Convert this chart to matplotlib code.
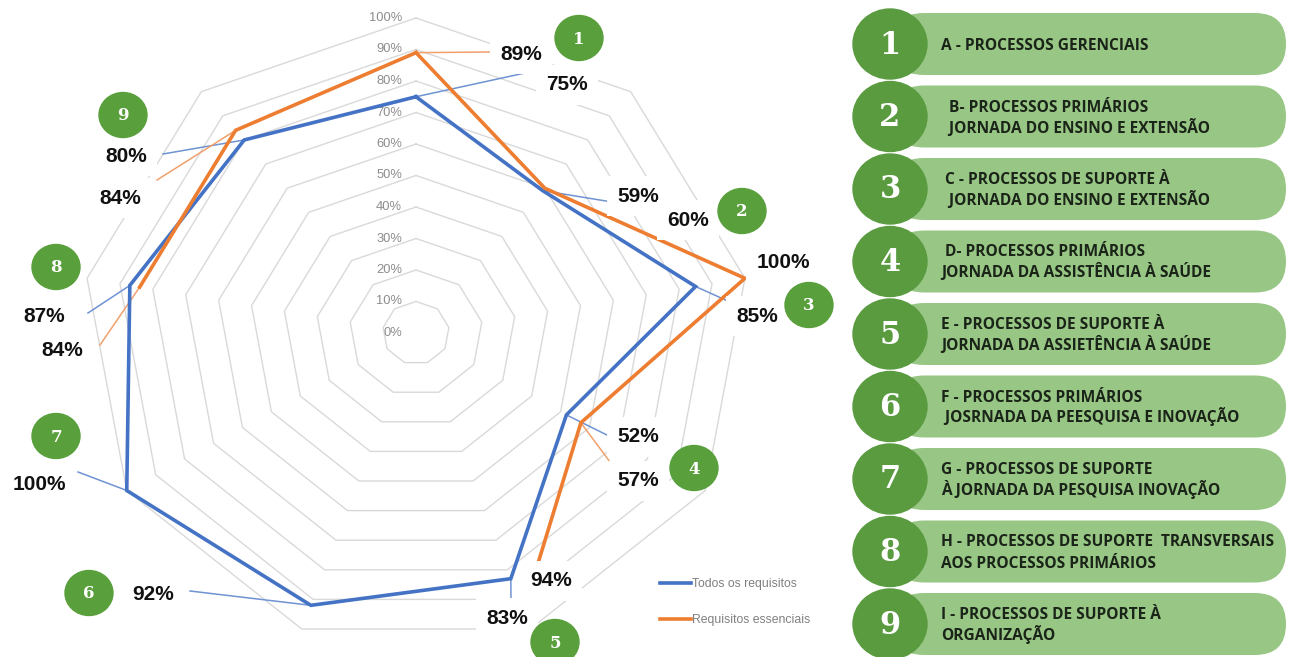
import numpy as np
import matplotlib
matplotlib.use("Agg")
import matplotlib.pyplot as plt
from matplotlib.patches import Ellipse, FancyBboxPatch

# Data (percent per process, axes 1..9 clockwise from top)
eixos = ["1", "2", "3", "4", "5", "6", "7", "8", "9"]
todos_requisitos = [75, 59, 85, 52, 83, 92, 100, 87, 80]
requisitos_essenciais = [89, 60, 100, 57, 94, np.nan, np.nan, 84, 84]
niveis = [0, 10, 20, 30, 40, 50, 60, 70, 80, 90, 100]
serie_nomes = ["Todos os requisitos", "Requisitos essenciais"]

processos = [
    "A - PROCESSOS GERENCIAIS",
    "  B- PROCESSOS PRIMÁRIOS\n  JORNADA DO ENSINO E EXTENSÃO",
    " C - PROCESSOS DE SUPORTE À\n  JORNADA DO ENSINO E EXTENSÃO",
    " D- PROCESSOS PRIMÁRIOS\nJORNADA DA ASSISTÊNCIA À SAÚDE",
    "E - PROCESSOS DE SUPORTE À\nJORNADA DA ASSIETÊNCIA À SAÚDE",
    "F - PROCESSOS PRIMÁRIOS\n JOSRNADA DA PEESQUISA E INOVAÇÃO",
    "G - PROCESSOS DE SUPORTE\nÀ JORNADA DA PESQUISA INOVAÇÃO",
    "H - PROCESSOS DE SUPORTE  TRANSVERSAIS\nAOS PROCESSOS PRIMÁRIOS",
    "I - PROCESSOS DE SUPORTE À\nORGANIZAÇÃO",
]

BLUE = "#4472c4"
ORANGE = "#ed7d31"
GRID = "#d9d9d9"
GREEN_DOT = "#59a03c"
GREEN_PILL = "#98c785"
GREEN_NUM = "#5a9b40"

W, H = 1292, 657
fig = plt.figure(figsize=(W / 100, H / 100), dpi=100)

# radar axes: center at pixel (416, 333); 1% = 3.34 px wide, 3.15 px tall
CX, CY, SX, SY = 416, 333, 3.34, 3.15
ax = fig.add_axes([0, 0, 1, 1])
ax.set_xlim(-CX / SX, (W - CX) / SX)
ax.set_ylim(-(H - CY) / SY, CY / SY)
ax.axis("off")


def px(x, y):
    # pixel position (from top-left) -> radar data coords
    return (x - CX) / SX, (CY - y) / SY


n = len(eixos)
ang = np.pi / 2 - 2 * np.pi * np.arange(n) / n
ang_c = np.append(ang, ang[0])

# rings
for v in niveis[1:]:
    ax.plot(v * np.cos(ang_c), v * np.sin(ang_c), color=GRID, lw=1, zorder=1)
for v in niveis:
    ax.text(-4.2, v, f"{v}%", ha="right", va="center", fontsize=9.3,
            color="#8c8c8c", family="Liberation Sans", zorder=2)

# series
for vals, cor, nome in [(todos_requisitos, BLUE, serie_nomes[0]),
                        (requisitos_essenciais, ORANGE, serie_nomes[1])]:
    r = np.append(vals, vals[0])
    ax.plot(r * np.cos(ang_c), r * np.sin(ang_c), color=cor, lw=2.6,
            zorder=4, label=nome, solid_joinstyle="miter")

# data labels: label centre and leader start (pixels)
lab_blue = [((567, 85), (525, 73)), ((638, 196), (612, 202)), ((757, 316), (730, 302)),
            ((638, 437), (613, 438)), ((507, 618), (511, 600)), ((153, 594), (190, 591)),
            ((39, 484), (78, 472)), ((44, 316), (88, 313)), ((126, 156), (163, 154))]
lab_orange = [((521, 54), (491, 52)), ((688, 220), None), ((783, 262), None),
              ((638, 481), (613, 466)), ((551, 581), None), None, None,
              ((62, 350), (100, 345)), ((120, 198), (157, 180))]

for vals, labs, cor in [(todos_requisitos, lab_blue, "#6f93d3"),
                        (requisitos_essenciais, lab_orange, "#f2a06c")]:
    for k, v in enumerate(vals):
        if labs[k] is None or np.isnan(v):
            continue
        (tx, ty), lead = labs[k]
        if lead is not None:
            dx, dy = v * np.cos(ang[k]), v * np.sin(ang[k])
            lx, ly = px(*lead)
            ax.plot([lx, dx], [ly, dy], color=cor, lw=1.1, zorder=3)
        ax.text(*px(tx, ty), f"{v:.0f}%", ha="center", va="center", fontsize=15,
                fontweight="bold", family="Liberation Sans", color="#111111", zorder=6,
                bbox=dict(boxstyle="square,pad=0.5", fc="white", ec="none"))

# numbered green dots round the radar (pixels)
dots = [(579, 38), (742, 211), (809, 305), (694, 468), (555, 642),
        (89, 593), (56, 436), (56, 267), (123, 115)]
for lab, (x, y) in zip(eixos, dots):
    ax.add_patch(Ellipse(px(x, y), 48 / SX, 45 / SY, color=GREEN_DOT, zorder=7))
    ax.text(*px(x, y + 1), lab, ha="center", va="center", fontsize=12,
            fontweight="bold", family="DejaVu Serif", color="white", zorder=8)

leg = ax.legend(loc="upper left", bbox_to_anchor=(660 / W, 1 - 578 / H),
                bbox_transform=fig.transFigure, frameon=False,
                handlelength=2.5, handletextpad=0.15, labelspacing=2.0,
                borderpad=0, borderaxespad=0, labelcolor="#7f7f7f",
                prop={"family": "Liberation Sans", "size": 8.8})

# right panel in pixel coordinates
ax2 = fig.add_axes([0, 0, 1, 1])
ax2.set_xlim(0, W)
ax2.set_ylim(H, 0)
ax2.axis("off")
ax2.patch.set_alpha(0)

for i, txt in enumerate(processos):
    yc = 44 + 72.5 * i
    ax2.add_patch(FancyBboxPatch((893, yc - 31), 393, 62,
                                 boxstyle="round,pad=0,rounding_size=31",
                                 fc=GREEN_PILL, ec="none", zorder=1))
    ax2.add_patch(Ellipse((890, yc), 74, 70, color=GREEN_NUM, zorder=2))
    ax2.text(890, yc + 1, str(i + 1), ha="center", va="center", fontsize=22,
             fontweight="bold", family="DejaVu Serif", color="white", zorder=3)
    linhas = txt.split("\n")
    for j, linha in enumerate(linhas):
        yl = yc + (j - (len(linhas) - 1) / 2) * 21
        ax2.text(941, yl + 5.5, linha, ha="left", va="baseline", fontsize=11.2,
                 fontweight="bold", family="Open Sans", color="#1b2418", zorder=3)

fig.savefig("out.png", dpi=100)
